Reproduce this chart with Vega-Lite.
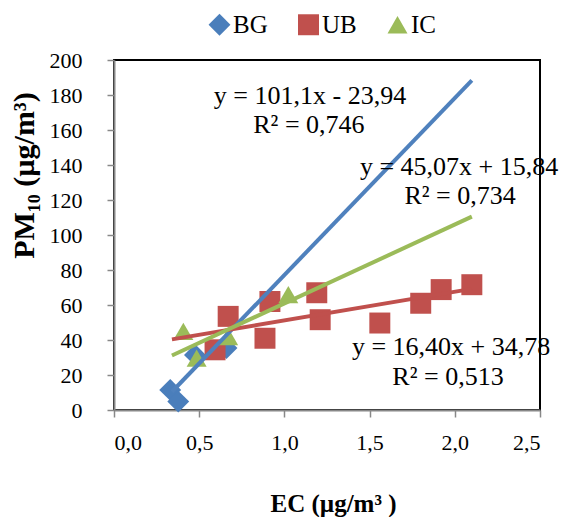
{
  "$schema": "https://vega.github.io/schema/vega-lite/v6.json",
  "autosize": {"type": "none"},
  "width": 426,
  "height": 350,
  "padding": {"left": 114, "top": 60, "right": 22, "bottom": 107},
  "background": "white",
  "config": {
    "view": {"stroke": "black", "strokeWidth": 2},
    "font": "Liberation Serif",
    "axis": {
      "grid": false,
      "domainColor": "#888888",
      "domainWidth": 2,
      "tickColor": "#888888",
      "tickWidth": 1.5,
      "tickSize": 7,
      "labelFont": "Liberation Serif",
      "labelFontSize": 22,
      "labelColor": "black",
      "titleFont": "Liberation Serif",
      "titleFontWeight": "bold",
      "titleColor": "black"
    }
  },
  "datasets": {
    "pts": [
      {"series": "BG", "ec": 0.33, "pm": 11.5},
      {"series": "BG", "ec": 0.377, "pm": 4.8},
      {"series": "BG", "ec": 0.475, "pm": 31.5},
      {"series": "BG", "ec": 0.66, "pm": 35.4},
      {"series": "UB", "ec": 0.593, "pm": 34.4},
      {"series": "UB", "ec": 0.67, "pm": 53.5},
      {"series": "UB", "ec": 0.886, "pm": 41},
      {"series": "UB", "ec": 0.915, "pm": 62},
      {"series": "UB", "ec": 1.19, "pm": 67},
      {"series": "UB", "ec": 1.21, "pm": 51.6},
      {"series": "UB", "ec": 1.56, "pm": 49.7},
      {"series": "UB", "ec": 1.8, "pm": 61},
      {"series": "UB", "ec": 1.92, "pm": 68.8},
      {"series": "UB", "ec": 2.1, "pm": 71.6},
      {"series": "IC", "ec": 0.407, "pm": 44.9},
      {"series": "IC", "ec": 0.485, "pm": 29.6},
      {"series": "IC", "ec": 0.67, "pm": 42},
      {"series": "IC", "ec": 1.023, "pm": 65.9}
    ],
    "fits": [
      {"series": "BG", "ec": 0.34, "pm": 10.43},
      {"series": "BG", "ec": 2.1, "pm": 188.37},
      {"series": "UB", "ec": 0.34, "pm": 40.36},
      {"series": "UB", "ec": 2.1, "pm": 69.22},
      {"series": "IC", "ec": 0.34, "pm": 31.16},
      {"series": "IC", "ec": 2.1, "pm": 110.49}
    ],
    "labels": [
      {"ec": 1.15, "pm": 174.8, "txt": "y = 101,1x - 23,94"},
      {"ec": 1.144, "pm": 158.2, "txt": "R² = 0,746"},
      {"ec": 2.025, "pm": 134.1, "txt": "y = 45,07x + 15,84"},
      {"ec": 2.031, "pm": 117.5, "txt": "R² = 0,734"},
      {"ec": 1.978, "pm": 31.5, "txt": "y = 16,40x + 34,78"},
      {"ec": 1.96, "pm": 14.3, "txt": "R² = 0,513"}
    ]
  },
  "encoding": {
    "x": {
      "field": "ec",
      "type": "quantitative",
      "scale": {"domain": [0, 2.5], "nice": false, "zero": false},
      "axis": {
        "values": [0, 0.5, 1, 1.5, 2, 2.5],
        "labelExpr": "replace(format(datum.value, '.1f'), '.', ',')",
        "labelPadding": 15,
        "title": "EC (µg/m³ )",
        "titleFontSize": 25,
        "titleX": 219,
        "titleY": 101,
        "titleAlign": "center",
        "titleBaseline": "alphabetic"
      }
    },
    "y": {
      "field": "pm",
      "type": "quantitative",
      "scale": {"domain": [0, 200], "nice": false},
      "axis": {
        "values": [0, 20, 40, 60, 80, 100, 120, 140, 160, 180, 200],
        "labelPadding": 25,
        "title": "PM₁₀ (µg/m³)",
        "titleFontSize": 30,
        "titleX": -81,
        "titleY": 115,
        "titleAngle": -90,
        "titleAlign": "center",
        "titleBaseline": "alphabetic"
      }
    }
  },
  "layer": [
    {
      "data": {"name": "pts"},
      "mark": {"type": "point", "filled": true, "opacity": 1, "strokeWidth": 0},
      "encoding": {
        "color": {
          "field": "series",
          "type": "nominal",
          "scale": {"domain": ["BG", "UB", "IC"], "range": ["#4A7EBB", "#C0504D", "#9BBB59"]},
          "legend": {
            "orient": "none",
            "direction": "horizontal",
            "legendX": 93,
            "legendY": -48,
            "padding": 0,
            "title": null,
            "labelFont": "Liberation Serif",
            "labelFontSize": 25,
            "labelColor": "black",
            "labelOffset": 1,
            "columnPadding": 28,
            "symbolOpacity": 1,
            "symbolStrokeWidth": 0
          }
        },
        "shape": {
          "field": "series",
          "type": "nominal",
          "scale": {"domain": ["BG", "UB", "IC"], "range": ["diamond", "square", "triangle-up"]}
        },
        "size": {
          "field": "series",
          "type": "nominal",
          "scale": {"domain": ["BG", "UB", "IC"], "range": [480, 400, 330]}
        }
      }
    },
    {
      "data": {"name": "fits"},
      "mark": {"type": "line", "strokeWidth": 4},
      "encoding": {
        "stroke": {
          "field": "series",
          "type": "nominal",
          "scale": {"domain": ["BG", "UB", "IC"], "range": ["#4F81BD", "#C0504D", "#9BBB59"]},
          "legend": null
        }
      }
    },
    {
      "data": {"name": "labels"},
      "mark": {"type": "text", "font": "Liberation Serif", "fontSize": 26, "align": "center", "baseline": "alphabetic", "color": "black"},
      "encoding": {
        "text": {"field": "txt", "type": "nominal"}
      }
    }
  ]
}
